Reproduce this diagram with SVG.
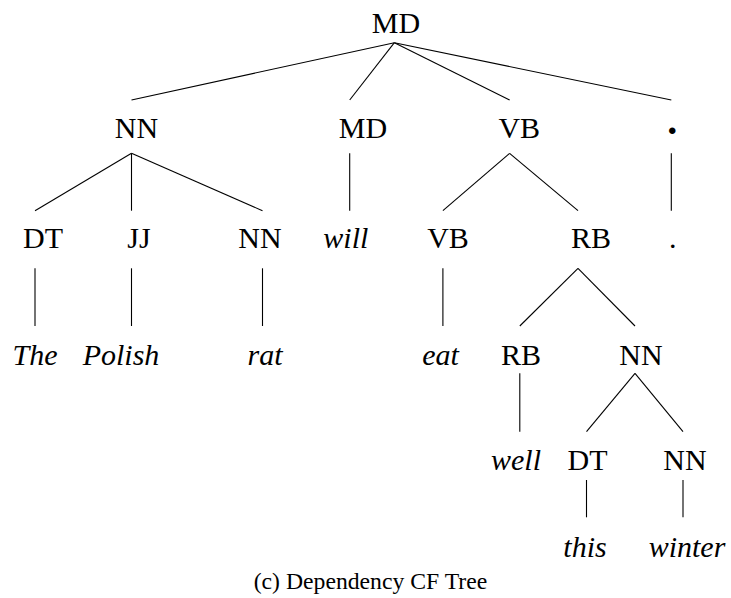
<svg xmlns="http://www.w3.org/2000/svg" width="731" height="598" viewBox="0 0 731 598">
<style>
.e{stroke:#000;stroke-width:1.1;fill:none}
</style>
<rect width="731" height="598" fill="#fff"/>
<g id="edges" class="e">
<line x1="394.4" y1="42.7" x2="131.5" y2="100"/>
<line x1="394.4" y1="42.7" x2="349.7" y2="100"/>
<line x1="394.4" y1="42.7" x2="509.6" y2="100"/>
<line x1="394.4" y1="42.7" x2="671.3" y2="100"/>
<line x1="131.5" y1="153.3" x2="35" y2="210.7"/>
<line x1="131.5" y1="153.3" x2="131.5" y2="210.7"/>
<line x1="131.5" y1="153.3" x2="262.5" y2="210.7"/>
<line x1="349.7" y1="153.3" x2="349.7" y2="210.7"/>
<line x1="509.6" y1="153.3" x2="442.9" y2="210.7"/>
<line x1="509.6" y1="153.3" x2="578" y2="210.7"/>
<line x1="671.3" y1="153.3" x2="671.3" y2="210.7"/>
<line x1="35" y1="268.3" x2="35" y2="326"/>
<line x1="131.5" y1="268.3" x2="131.5" y2="326"/>
<line x1="262.5" y1="268.3" x2="262.5" y2="326"/>
<line x1="442.9" y1="268.3" x2="442.9" y2="326"/>
<line x1="578" y1="268.3" x2="519.8" y2="326"/>
<line x1="578" y1="268.3" x2="635" y2="326"/>
<line x1="519.8" y1="373.3" x2="519.8" y2="431.7"/>
<line x1="635" y1="373.3" x2="586.5" y2="431.7"/>
<line x1="635" y1="373.3" x2="683" y2="431.7"/>
<line x1="586.5" y1="480" x2="586.5" y2="517.3"/>
<line x1="683" y1="480" x2="683" y2="517.3"/>
</g>
<g id="n-root"><text font-family="Liberation Serif" font-size="30" text-anchor="middle" x="396" y="33">MD</text></g>
<g id="n-nn1"><text font-family="Liberation Serif" font-size="30" text-anchor="middle" x="136.5" y="138.3">NN</text></g>
<g id="n-md"><text font-family="Liberation Serif" font-size="30" text-anchor="middle" x="363" y="138.3">MD</text></g>
<g id="n-vb1"><text font-family="Liberation Serif" font-size="30" text-anchor="middle" x="519.3" y="138.3">VB</text></g>
<g id="n-punct1"><text font-family="Liberation Serif" font-size="40" font-weight="bold" text-anchor="middle" x="672.3" y="134.2">.</text></g>
<g id="n-dt1"><text font-family="Liberation Serif" font-size="30" text-anchor="middle" x="43" y="248.3">DT</text></g>
<g id="n-jj"><text font-family="Liberation Serif" font-size="30" text-anchor="middle" x="139" y="248.3">JJ</text></g>
<g id="n-nn2"><text font-family="Liberation Serif" font-size="30" text-anchor="middle" x="260" y="248.3">NN</text></g>
<g id="n-will"><text font-family="Liberation Serif" font-size="30" font-style="italic" text-anchor="middle" x="345.8" y="248.3">will</text></g>
<g id="n-vb2"><text font-family="Liberation Serif" font-size="30" text-anchor="middle" x="448" y="248.3">VB</text></g>
<g id="n-rb1"><text font-family="Liberation Serif" font-size="30" text-anchor="middle" x="591" y="248.3">RB</text></g>
<g id="n-punct2"><text font-family="Liberation Serif" font-size="30" text-anchor="middle" x="672.7" y="248.3">.</text></g>
<g id="n-the"><text font-family="Liberation Serif" font-size="30" font-style="italic" text-anchor="middle" x="35" y="365">The</text></g>
<g id="n-polish"><text font-family="Liberation Serif" font-size="30" font-style="italic" text-anchor="middle" x="121" y="365">Polish</text></g>
<g id="n-rat"><text font-family="Liberation Serif" font-size="30" font-style="italic" text-anchor="middle" x="265" y="365">rat</text></g>
<g id="n-eat"><text font-family="Liberation Serif" font-size="30" font-style="italic" text-anchor="middle" x="440.6" y="365">eat</text></g>
<g id="n-rb2"><text font-family="Liberation Serif" font-size="30" text-anchor="middle" x="521" y="365">RB</text></g>
<g id="n-nn3"><text font-family="Liberation Serif" font-size="30" text-anchor="middle" x="641" y="365">NN</text></g>
<g id="n-well"><text font-family="Liberation Serif" font-size="30" font-style="italic" text-anchor="middle" x="516" y="470">well</text></g>
<g id="n-dt2"><text font-family="Liberation Serif" font-size="30" text-anchor="middle" x="587.5" y="470">DT</text></g>
<g id="n-nn4"><text font-family="Liberation Serif" font-size="30" text-anchor="middle" x="685" y="470">NN</text></g>
<g id="n-this"><text font-family="Liberation Serif" font-size="30" font-style="italic" text-anchor="middle" x="585" y="556.7">this</text></g>
<g id="n-winter"><text font-family="Liberation Serif" font-size="30" font-style="italic" text-anchor="middle" x="687" y="556.7">winter</text></g>
<text font-family="Liberation Serif" font-size="23.7" text-anchor="middle" x="370.5" y="589">(c) Dependency CF Tree</text>
</svg>
